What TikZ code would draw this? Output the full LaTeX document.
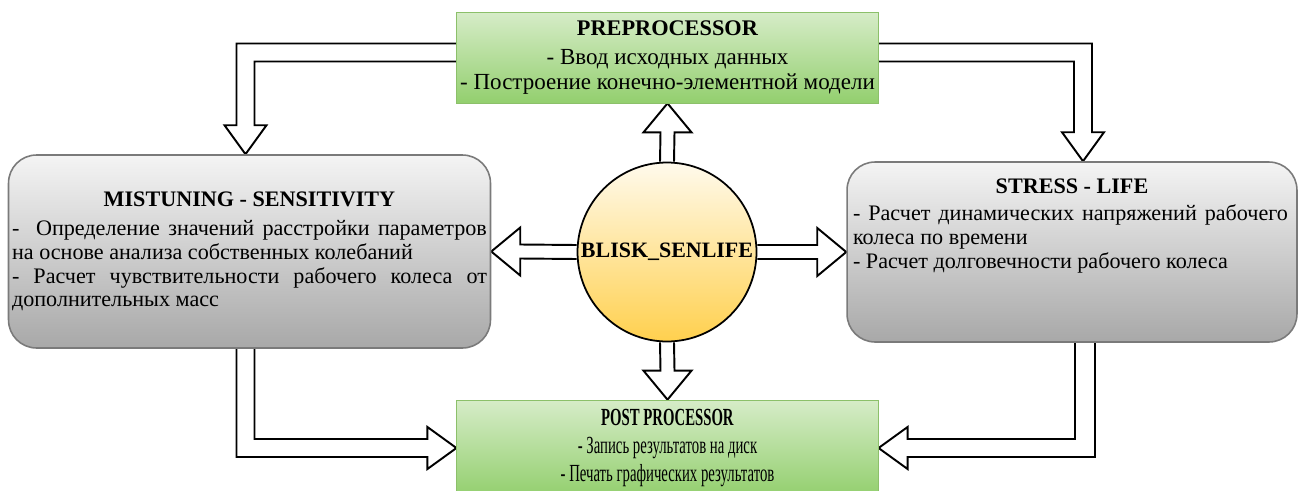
\documentclass[tikz,border=0pt]{standalone}
\usepackage{fontspec}
\setmainfont{Liberation Serif}
\newfontfamily\narrowserif{Liberation Serif}[FakeStretch=0.6]
\newcommand{\wordspace}{\spaceskip=0pt\xspaceskip=0pt\relax}
\usetikzlibrary{calc,backgrounds}

\definecolor{greenTop}{HTML}{D6ECC8}
\definecolor{greenBottom}{HTML}{93CF6E}
\definecolor{greenLine}{HTML}{8CC06A}
\definecolor{grayTop}{HTML}{F4F4F4}
\definecolor{grayBottom}{HTML}{A8A8A8}
\definecolor{grayLine}{HTML}{7A7A7A}
\definecolor{hubTop}{HTML}{FFFAEC}
\definecolor{hubBottom}{HTML}{FFD04E}

\tikzset{
    green-box/.style = {draw=greenLine, top color=greenTop, bottom color=greenBottom, rectangle, minimum width=8.38cm, inner sep=1pt, text width=8.36cm, align=flush center},
    gray-box/.style = {draw=grayLine, line width=0.9pt, top color=grayTop, bottom color=grayBottom, rectangle, rounded corners=0.56cm, inner xsep=2pt, align=left, font=\fontsize{12.6}{13.5}\selectfont},
    hub-circle/.style = {draw, line width=1pt, circle, top color=hubTop, bottom color=hubBottom, minimum size=3.58cm, inner sep=0pt, font=\bfseries\fontsize{12.5}{14}\selectfont},
    block-arrow/.style = {draw=black, fill=white, line width=1.1pt, line join=miter},
}

\begin{document}
\begin{tikzpicture}[x=0.02cm, y=-0.02cm]
\useasboundingbox (0,0) rectangle (1301,490);

% boxes
\node[green-box, minimum height=1.82cm, font=\fontsize{13.1}{14.4}\selectfont] (pre) at (667.5,57.5)
    {\wordspace{\fontsize{12.7}{14}\selectfont\textbf{PREPROCESSOR}}\\[2pt]- Ввод исходных данных\\\mbox{- Построение конечно-элементной модели}};
\node[green-box, minimum height=1.92cm, font=\narrowserif\fontsize{14}{16.2}\selectfont] (post) at (667.5,448)
    {\wordspace\textbf{POST PROCESSOR}\\- Запись результатов на диск\\- Печать графических результатов};
\node[gray-box, minimum width=9.58cm, minimum height=3.86cm, text width=9.5cm] (mist) at (249.5,251.5)
    {\wordspace\makebox[9.5cm]{\textbf{MISTUNING - SENSITIVITY}}\\[3pt]
     \makebox[9.5cm][s]{-\ \ Определение значений расстройки параметров}\\
     на основе анализа собственных колебаний\\
     \makebox[9.5cm][s]{- Расчет чувствительности рабочего колеса от}\\
     дополнительных масс};
\node[gray-box, minimum width=9cm, minimum height=3.6cm, text width=8.76cm, text depth=75pt] (stress) at (1072,252)
    {\wordspace\makebox[8.76cm]{\textbf{STRESS - LIFE}}\\[2pt]
     \makebox[8.7cm][s]{- Расчет динамических напряжений рабочего}\\
     колеса по времени\\
     - Расчет долговечности рабочего колеса};
\node[hub-circle] (hub) at (667,252) {BLISK\_SENLIFE};

\coordinate (mist-top) at ($(mist.north)+(-4,0)$);
\coordinate (stress-top) at ($(stress.north)+(11,0)$);
\coordinate (mist-bot) at ($(mist.south)+(-4,0)$);
\coordinate (stress-bot) at ($(stress.south)+(13,0)$);

% block arrows
\begin{scope}[on background layer]
\draw[block-arrow] ($(pre.west)+(0,-14)$) -| ($(mist-top)+(-9,-29)$) -- ++(-12,0) -- (mist-top) -- ++(21,-29) -- ++(-12,0) |- ($(pre.west)+(0,4)$);
\draw[block-arrow] ($(pre.east)+(0,-14)$) -| ($(stress-top)+(9,-29)$) -- ++(12,0) -- (stress-top) -- ++(-21,-29) -- ++(12,0) |- ($(pre.east)+(0,4)$);
\draw[block-arrow] ($(mist-bot)+(-9,0)$) |- ($(post.west)+(-29,9)$) -- ++(0,12) -- (post.west) -- ++(-29,-21) -- ++(0,12) -| ($(mist-bot)+(9,0)$);
\draw[block-arrow] ($(stress-bot)+(10,0)$) |- ($(post.east)+(29,9)$) -- ++(0,12) -- (post.east) -- ++(29,-21) -- ++(0,12) -| ($(stress-bot)+(-10,0)$);

\draw[block-arrow] ($(hub.north)+(-7,0)$) -- ($(pre.south)+(-7,29)$) -- ++(-17,0) -- (pre.south) -- ++(24,29) -- ++(-17,0) -- ($(hub.north)+(7,0)$);
\draw[block-arrow] ($(hub.south)+(-7,0)$) -- ($(post.north)+(-7,-29)$) -- ++(-17,0) -- (post.north) -- ++(24,-29) -- ++(-17,0) -- ($(hub.south)+(7,0)$);
\draw[block-arrow] ($(hub.west)+(0,-7)$) -- ($(mist.east)+(29,-7)$) -- ++(0,-17) -- (mist.east) -- ++(29,24) -- ++(0,-17) -- ($(hub.west)+(0,7)$);
\draw[block-arrow] ($(hub.east)+(0,-7)$) -- ($(stress.west)+(-29,-7)$) -- ++(0,-17) -- (stress.west) -- ++(-29,24) -- ++(0,-17) -- ($(hub.east)+(0,7)$);
\end{scope}
\end{tikzpicture}
\end{document}
